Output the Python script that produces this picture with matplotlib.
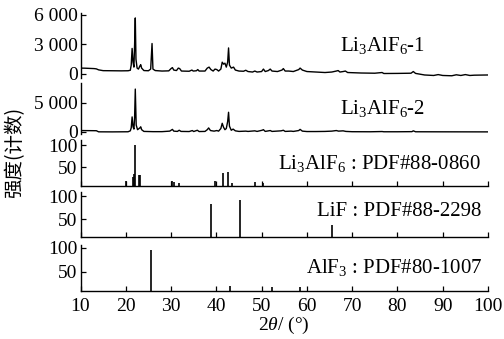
import numpy as np
import matplotlib
matplotlib.use('Agg')
import matplotlib.pyplot as plt

plt.rcParams['font.family'] = ['Liberation Serif', 'DejaVu Serif']
plt.rcParams['mathtext.fontset'] = 'custom'
plt.rcParams['mathtext.rm'] = 'Liberation Serif'
plt.rcParams['mathtext.it'] = 'Liberation Serif:italic'
plt.rcParams['font.size'] = 14

# measured pattern Li3AlF6-1 (2theta, counts)
p1_x = [10.0, 11.0, 12.0, 13.0, 13.5, 14.0, 15.0, 17.0, 19.0, 20.5, 21.0, 21.2, 21.4, 21.6, 21.8,
        21.95, 22.1, 22.25, 22.5, 22.8, 23.1, 23.3, 23.5, 24.0, 25.0, 25.5, 25.8, 26.0, 26.5, 28.0,
        29.5, 30.0, 30.3, 30.6, 31.2, 31.6, 31.9, 32.3, 34.0, 34.6, 34.9, 35.6, 35.9, 36.2, 37.5,
        38.0, 38.4, 38.8, 39.3, 39.7, 40.1, 40.5, 41.0, 41.3, 41.6, 41.9, 42.2, 42.5, 42.7, 42.9,
        43.3, 43.8, 44.2, 45.0, 46.0, 46.5, 47.0, 48.0, 48.5, 49.0, 50.0, 50.4, 50.8, 51.5, 51.9,
        52.3, 53.5, 54.5, 54.8, 55.2, 56.0, 57.0, 58.2, 58.5, 59.0, 60.0, 62.0, 64.0, 65.5, 66.0,
        66.5, 66.9, 67.3, 68.0, 68.5, 69.0, 72.0, 75.0, 76.6, 77.0, 80.0, 83.0, 83.5, 84.0, 86.0,
        88.0, 89.0, 90.0, 92.0, 93.0, 94.0, 95.0, 96.0, 97.0, 100.0]
p1_y = [600, 590, 570, 550, 520, 420, 340, 330, 320, 330, 380, 900, 2600, 1200, 700,
        3000, 5700, 1500, 600, 500, 800, 950, 600, 350, 330, 500, 3100, 500, 350, 300,
        320, 550, 650, 400, 350, 600, 550, 300, 280, 400, 300, 330, 450, 300, 300,
        600, 700, 450, 300, 500, 450, 300, 500, 1200, 1000, 1100, 700, 1200, 2650, 900,
        600, 700, 400, 300, 280, 380, 250, 200, 300, 200, 250, 500, 250, 350, 500,
        300, 250, 400, 550, 300, 300, 250, 450, 600, 400, 250, 200, 150, 200, 250,
        300, 350, 200, 250, 300, 150, 100, 80, 150, 50, 60, 80, 250, 60, -100,
        -150, -60, -150, -180, -80, -150, -60, -150, -120, -100]

# measured pattern Li3AlF6-2
p2_x = [10.0, 13.5, 14.0, 17.0, 20.5, 21.0, 21.2, 21.4, 21.6, 21.8, 21.95, 22.1, 22.3, 22.6,
        23.1, 23.3, 23.5, 24.0, 26.0, 28.0, 29.7, 30.0, 30.3, 30.6, 31.4, 31.8, 32.2, 34.0,
        34.7, 35.0, 35.8, 36.2, 37.5, 38.0, 38.3, 38.7, 39.5, 40.1, 40.5, 41.0, 41.3, 41.6,
        41.9, 42.2, 42.5, 42.7, 42.9, 43.3, 43.7, 44.2, 45.0, 46.5, 47.0, 48.5, 49.0, 50.1,
        50.4, 50.8, 51.9, 52.3, 54.3, 54.8, 55.2, 56.5, 57.0, 58.2, 58.5, 59.0, 60.0, 62.0,
        64.0, 65.5, 66.0, 66.5, 67.0, 68.0, 68.6, 70.0, 74.0, 76.6, 77.0, 80.0, 83.2, 83.5,
        84.0, 90.0, 100.0]
p2_y = [250, 220, 30, 20, 40, 200, 700, 2600, 900, 500, 2500, 7400, 1200, 400,
        700, 900, 400, 100, 60, 60, 150, 300, 450, 150, 100, 300, 100, 80,
        250, 80, 300, 80, 100, 400, 700, 250, 150, 250, 150, 600, 1500, 800,
        400, 600, 1800, 3400, 1000, 300, 500, 200, 100, 150, 100, 200, 100, 300,
        400, 100, 250, 100, 200, 300, 100, 150, 100, 250, 450, 150, 80, 80,
        100, 150, 200, 250, 150, 200, 100, 50, 40, 80, 40, 40, 60, 200,
        40, 30, 20]

# reference cards (2theta, relative intensity)
li3alf6_pos = [20.0, 21.5, 21.8, 22.0, 23.0, 23.2, 30.2, 30.6, 31.7, 39.8, 41.5, 42.6, 43.5, 48.6, 50.4]
li3alf6_int = [19, 28, 35, 100, 32, 32, 19, 15, 14, 18, 36, 39, 14, 15, 14]
lif_pos = [38.9, 45.2, 65.6]
lif_int = [82, 91, 37]
alf3_pos = [25.6, 43.1, 52.2, 58.4]
alf3_int = [96, 20, 19, 19]

W, H = 504, 339
fig = plt.figure(figsize=(W / 100, H / 100), dpi=100)

def mk(top, bot, ylim):
    ax = fig.add_axes([80.5 / W, 1 - bot / H, 407.5 / W, (bot - top) / H])
    ax.set_xlim(10, 100)
    ax.set_ylim(*ylim)
    ax.spines['top'].set_visible(False)
    ax.spines['right'].set_visible(False)
    for s in ax.spines.values():
        s.set_linewidth(1.0)
    ax.tick_params(direction='in', length=3.5, width=0.9, pad=2)
    ax.tick_params(axis='x', pad=5)
    ax.set_xticks(np.arange(10, 101, 10))
    return ax

ax1 = mk(13, 78, (-407, 6203))
ax1.plot(p1_x, p1_y, color='black', lw=1.0)
ax1.set_yticks([0, 3000, 6000], ['0', '3 000', '6 000'])
ax1.spines['bottom'].set_visible(False)
ax1.tick_params(axis='x', bottom=False, labelbottom=False)

ax2 = mk(83, 134, (-345, 8448))
ax2.plot(p2_x, p2_y, color='black', lw=1.0)
ax2.set_yticks([0, 5000], ['0', '5 000'])
ax2.spines['bottom'].set_visible(False)
ax2.tick_params(axis='x', bottom=False, labelbottom=False)

ax3 = mk(140, 186, (6.8, 111.4))
ax3.vlines(li3alf6_pos, 6.8, li3alf6_int, color='black', lw=1.2)
ax3.set_yticks([50, 100])
ax3.tick_params(axis='x', labelbottom=False)

ax4 = mk(192, 237, (10.9, 108.7))
ax4.vlines(lif_pos, 10.9, lif_int, color='black', lw=1.2)
ax4.set_yticks([50, 100])
ax4.tick_params(axis='x', labelbottom=False)

ax5 = mk(245, 291, (10.4, 106.2))
ax5.vlines(alf3_pos, 10.4, alf3_int, color='black', lw=1.2)
ax5.set_yticks([50, 100])
ax5.set_xlabel('2$\\it{\\theta}$/ (°)', labelpad=0)

def lbl(txt, x, y, ha):
    fig.text(x / W, 1 - y / H, txt, ha=ha, va='center', fontsize=15)

lbl('Li$_3$AlF$_6$-1', 383, 45, 'center')
lbl('Li$_3$AlF$_6$-2', 383, 108, 'center')
lbl('Li$_3$AlF$_6$ : PDF#88-0860', 481, 163, 'right')
lbl('LiF : PDF#88-2298', 481, 211, 'right')
lbl('AlF$_3$ : PDF#80-1007', 482, 268, 'right')

fig.text(15 / W, 1 - 152 / H, '强度(计数)', rotation=90, ha='center', va='center',
         family=['Noto Sans CJK SC', 'DejaVu Sans'], fontsize=14)

fig.savefig('out.png', dpi=100)
